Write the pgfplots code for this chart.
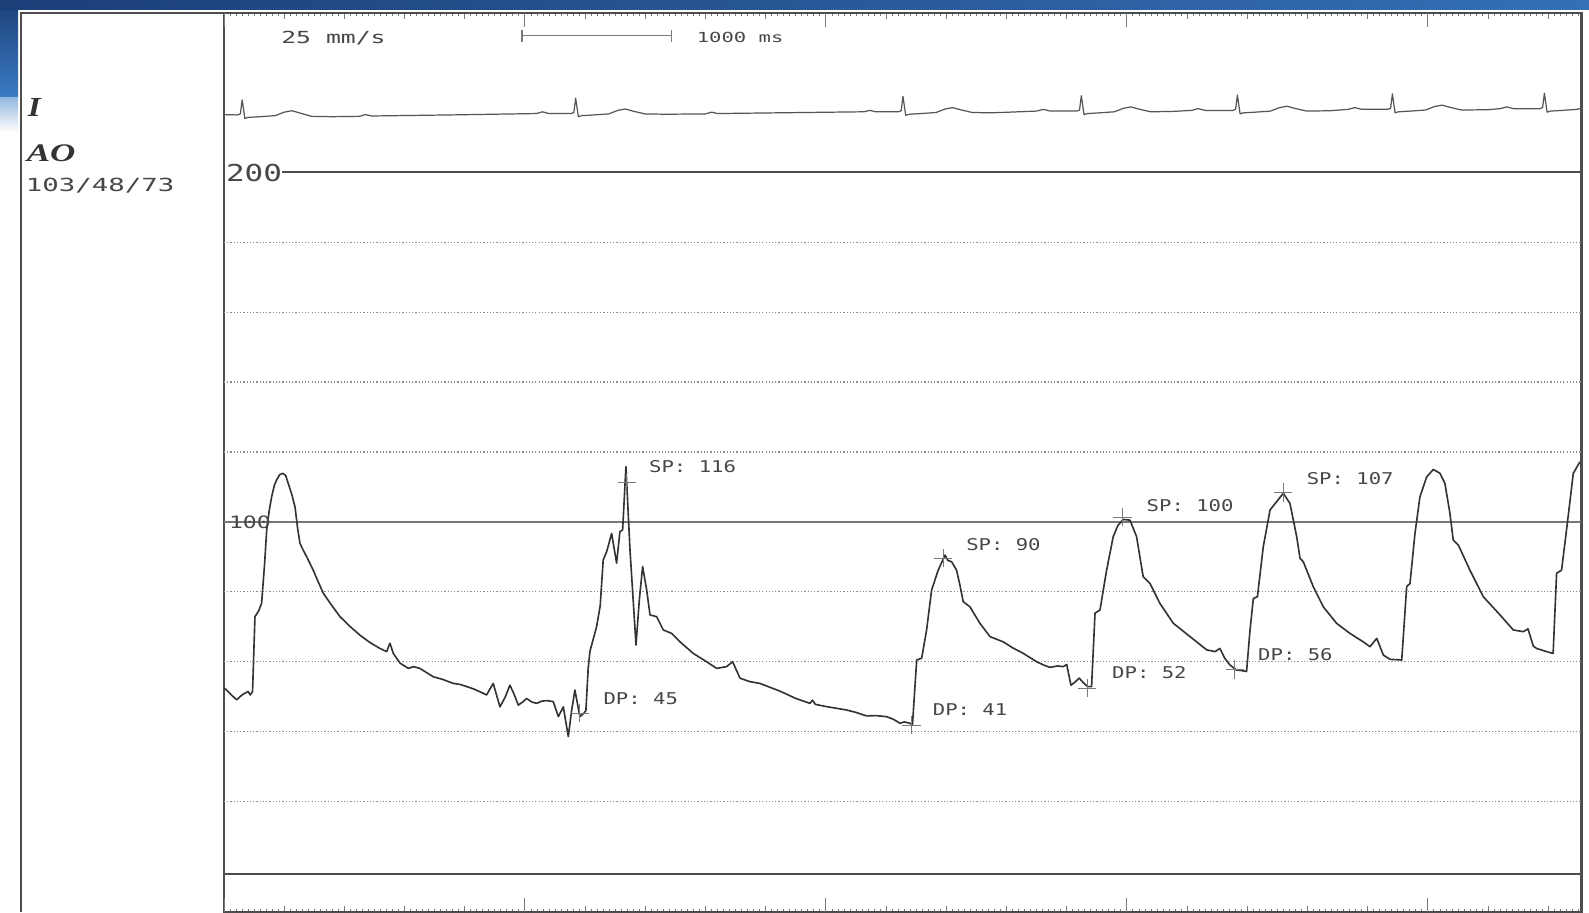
\documentclass[border=0pt]{standalone}
\usepackage{pgfplots}
\pgfplotsset{compat=1.18}
\usepackage{fontspec}
\setmainfont{Liberation Serif}
\newfontfamily\mono{DejaVu Sans Mono}
\definecolor{tracec}{HTML}{333333}
\definecolor{ecgc}{HTML}{555555}
\definecolor{framec}{HTML}{4D4D4D}
\definecolor{gridc}{HTML}{8C8C8C}
\definecolor{tickc}{HTML}{7A7A7A}
\definecolor{txtc}{HTML}{474747}
\definecolor{blueA}{HTML}{1C3F78}
\definecolor{blueB}{HTML}{3A7CC4}
\begin{document}
\begin{tikzpicture}
\useasboundingbox (0,0) rectangle (784pt,450pt);
\fill[white] (0,0) rectangle (784pt,450pt);
\shade[top color=blueA, bottom color=blueB] (0,402pt) rectangle (9pt,450pt);
\shade[top color=blueB!55!white, bottom color=white] (0,385pt) rectangle (9pt,402pt);
\shade[left color=blueA, right color=blueB!80!blueA] (0,445.5pt) rectangle (784pt,450pt);
\begin{axis}[
  at={(110.5pt,0pt)}, anchor=south west,
  scale only axis, width=669.75pt, height=443.5pt,
  xmin=0, xmax=9.02, ymin=-11.594, ymax=245.51,
  clip=false,
  axis line style={draw=framec, line width=1.1pt},
  xtick distance=0.4, minor x tick num=9,
  xticklabels={}, ytick=\empty,
  tick align=inside, xtick pos=both,
  major tick length=3pt, minor tick length=1.5pt,
  every tick/.style={tickc, line width=0.45pt},
  extra x ticks={0,2,4,6,8}, extra x tick labels={},
  extra x tick style={major tick length=7pt},
]
% grid lines
\pgfplotsinvokeforeach{20,40,60,80,120,140,160,180}{
  \draw[gridc, line width=0.6pt, dash pattern=on 0.6pt off 1.0pt] (0,#1) -- (9.02,#1);
}
\draw[gridc!85!black, line width=0.6pt] (0,100) -- (9.02,100);
\draw[framec, line width=1.1pt] (0.385,200) -- (9.02,200);
\draw[framec, line width=1.1pt] (0,-0.8) -- (9.02,-0.8);

% ECG lead I
\addplot[ecgc, line width=0.6pt, line join=round] table {
0.000 216.5
0.090 216.4
0.109 216.7
0.121 220.7
0.139 215.4
0.161 215.7
0.241 215.9
0.341 216.2
0.401 217.2
0.451 217.6
0.501 217.0
0.581 216.0
0.720 215.9
0.900 216.0
0.940 216.5
0.980 216.1
1.500 216.4
2.077 216.8
2.117 217.3
2.157 216.8
2.307 216.8
2.325 217.1
2.337 221.2
2.355 215.9
2.377 216.2
2.457 216.4
2.557 216.7
2.617 217.7
2.667 218.1
2.717 217.5
2.797 216.7
2.937 216.6
3.200 216.7
3.240 217.2
3.280 216.8
4.250 217.3
4.292 217.7
4.330 217.3
4.482 217.3
4.500 217.6
4.512 221.7
4.530 216.3
4.552 216.6
4.632 216.8
4.732 217.1
4.792 218.1
4.842 218.5
4.892 217.9
4.972 217.1
5.100 217.0
5.400 217.5
5.446 218.0
5.490 217.5
5.667 217.5
5.685 217.8
5.697 221.9
5.715 216.5
5.737 216.8
5.817 217.0
5.917 217.3
5.977 218.3
6.027 218.7
6.077 218.1
6.157 217.3
6.300 217.4
6.430 217.7
6.474 218.2
6.520 217.7
6.704 217.7
6.722 218.0
6.734 222.1
6.752 216.7
6.774 217.0
6.854 217.2
6.954 217.5
7.014 218.5
7.064 218.9
7.114 218.3
7.194 217.5
7.350 217.6
7.470 218.0
7.514 218.5
7.560 218.0
7.734 218.0
7.752 218.3
7.764 222.4
7.782 217.0
7.804 217.3
7.884 217.5
7.984 217.8
8.044 218.8
8.094 219.2
8.144 218.6
8.224 217.8
8.400 217.9
8.480 218.2
8.524 218.7
8.570 218.2
8.744 218.2
8.762 218.5
8.774 222.6
8.792 217.2
8.814 217.5
8.894 217.7
8.990 218.0
9.020 218.3
};

% Aortic pressure
\addplot[tracec, line width=0.8pt, line join=round] table {
0.000 52.5
0.018 51.9
0.050 50.5
0.084 49.1
0.120 50.5
0.160 51.5
0.175 50.5
0.190 51.5
0.206 72.9
0.230 74.5
0.250 76.7
0.270 88.0
0.284 97.7
0.300 103.0
0.317 107.2
0.335 110.5
0.350 112.0
0.370 113.5
0.390 113.9
0.410 113.3
0.427 111.0
0.450 108.0
0.472 104.3
0.490 98.0
0.505 93.9
0.520 92.5
0.550 90.0
0.593 86.2
0.630 82.5
0.660 79.6
0.710 76.5
0.771 72.9
0.840 70.0
0.904 67.6
0.970 65.5
1.037 63.8
1.081 62.9
1.103 65.3
1.125 62.4
1.170 59.6
1.225 58.1
1.260 58.6
1.302 58.1
1.350 56.8
1.391 55.7
1.450 55.0
1.524 53.8
1.570 53.5
1.613 52.9
1.660 52.2
1.701 51.4
1.745 50.5
1.789 53.8
1.834 47.1
1.870 50.0
1.900 53.3
1.925 51.0
1.956 47.6
1.985 48.5
2.011 49.5
2.045 48.5
2.078 48.1
2.110 48.7
2.144 48.9
2.188 48.6
2.222 44.3
2.255 47.1
2.288 38.6
2.310 46.0
2.332 51.9
2.365 44.3
2.390 45.2
2.405 46.0
2.420 58.0
2.432 63.0
2.476 70.0
2.500 76.0
2.520 89.1
2.543 91.5
2.576 96.7
2.609 88.2
2.631 97.2
2.649 97.7
2.671 115.8
2.698 92.0
2.738 64.8
2.760 77.7
2.782 87.2
2.809 80.5
2.831 73.4
2.875 72.9
2.919 69.1
2.975 68.1
3.030 65.7
3.118 62.4
3.207 60.0
3.274 58.1
3.340 58.6
3.380 60.0
3.429 55.3
3.495 54.3
3.561 53.8
3.694 51.6
3.800 49.5
3.894 48.1
3.910 49.0
3.930 47.8
4.000 47.2
4.137 46.2
4.200 45.5
4.270 44.5
4.330 44.6
4.403 44.3
4.450 43.5
4.492 42.4
4.520 42.8
4.558 42.4
4.575 42.0
4.603 60.5
4.636 61.0
4.669 69.1
4.702 80.5
4.746 86.2
4.770 88.5
4.791 90.5
4.810 89.0
4.835 88.6
4.868 86.2
4.890 82.0
4.912 77.2
4.957 75.7
5.023 71.0
5.090 67.2
5.130 66.5
5.178 65.7
5.240 64.0
5.311 62.4
5.400 60.0
5.450 59.0
5.488 58.4
5.540 58.8
5.577 58.6
5.600 59.2
5.628 53.3
5.650 54.0
5.683 55.3
5.710 54.0
5.739 52.9
5.765 52.9
5.788 73.9
5.821 74.8
5.865 86.2
5.909 95.8
5.940 99.0
5.976 100.7
6.020 100.5
6.064 95.8
6.108 84.3
6.153 82.4
6.219 76.7
6.308 71.0
6.352 69.5
6.419 67.2
6.530 63.4
6.586 62.9
6.618 63.8
6.650 61.0
6.684 59.1
6.729 57.6
6.760 57.5
6.795 57.2
6.818 69.1
6.840 78.1
6.867 78.6
6.906 92.9
6.951 103.4
6.995 105.8
7.039 108.2
7.083 105.3
7.128 95.8
7.150 89.6
7.172 88.6
7.238 81.5
7.305 75.7
7.393 71.0
7.482 68.1
7.570 65.7
7.615 64.3
7.660 66.7
7.704 61.9
7.748 60.7
7.826 60.5
7.859 81.5
7.881 82.4
7.914 96.7
7.947 107.2
7.992 112.9
8.036 115.0
8.080 113.9
8.113 111.0
8.146 102.5
8.168 94.8
8.202 93.4
8.279 86.2
8.368 78.6
8.479 73.4
8.567 69.1
8.634 68.6
8.665 69.4
8.700 64.5
8.722 63.8
8.811 62.6
8.832 62.4
8.855 85.3
8.888 86.2
8.921 97.7
8.966 113.9
9.010 117.2
};

% SP / DP cursor marks
\addplot[only marks, mark=+, mark size=4.5pt, tickc, mark options={line width=0.5pt}] coordinates {
(2.676,111.2) (2.365,45.3) (4.780,89.6) (4.569,41.9)
(5.971,101.3) (5.736,52.4) (6.718,57.8) (7.039,108.4)
};

% scale bar
\draw[tickc, line width=0.6pt] (1.98,239.1) -- (2.976,239.1);
\draw[tickc, line width=0.6pt] (1.98,237.4) -- (1.98,240.8);
\draw[tickc, line width=0.6pt] (2.976,237.4) -- (2.976,240.8);

% texts
\tikzset{mt/.style={anchor=west, inner sep=0pt, text=txtc}}
\node[mt, xscale=1.49, font=\mono\fontsize{8.2pt}{9pt}\selectfont] at (0.377,238.4) {25 mm/s};
\node[mt, xscale=1.48, font=\mono\fontsize{6.85pt}{8pt}\selectfont] at (3.138,238.6) {1000 ms};
\node[mt, xscale=1.33, font=\mono\fontsize{11.5pt}{12pt}\selectfont] at (0.010,199.7) {200};
\node[mt, xscale=1.36, font=\mono\fontsize{8.4pt}{9pt}\selectfont] at (0.030,99.9) {100};
\node[mt, text=tracec, xscale=1.2, font=\bfseries\itshape\fontsize{13.6pt}{14pt}\selectfont] at (-1.306,218.6) {I};
\node[mt, text=tracec, xscale=1.38, font=\bfseries\itshape\fontsize{12.5pt}{13pt}\selectfont] at (-1.313,205.5) {AO};
\node[mt, xscale=1.52, font=\mono\fontsize{8.9pt}{10pt}\selectfont] at (-1.320,196.2) {103/48/73};
\tikzset{lab/.style={mt, xscale=1.27, font=\mono\fontsize{8.0pt}{9pt}\selectfont}}
\node[lab] at (2.822,115.8) {SP: 116};
\node[lab] at (2.519,49.3) {DP: 45};
\node[lab] at (4.929,93.6) {SP: 90};
\node[lab] at (4.707,46.4) {DP: 41};
\node[lab] at (6.128,104.6) {SP: 100};
\node[lab] at (5.899,56.8) {DP: 52};
\node[lab] at (6.869,62.0) {DP: 56};
\node[lab] at (7.192,112.5) {SP: 107};
\end{axis}
% left panel frame
\draw[framec, line width=1.1pt] (10.5pt,0) -- (10.5pt,443.5pt) -- (110.5pt,443.5pt);
\end{tikzpicture}
\end{document}
